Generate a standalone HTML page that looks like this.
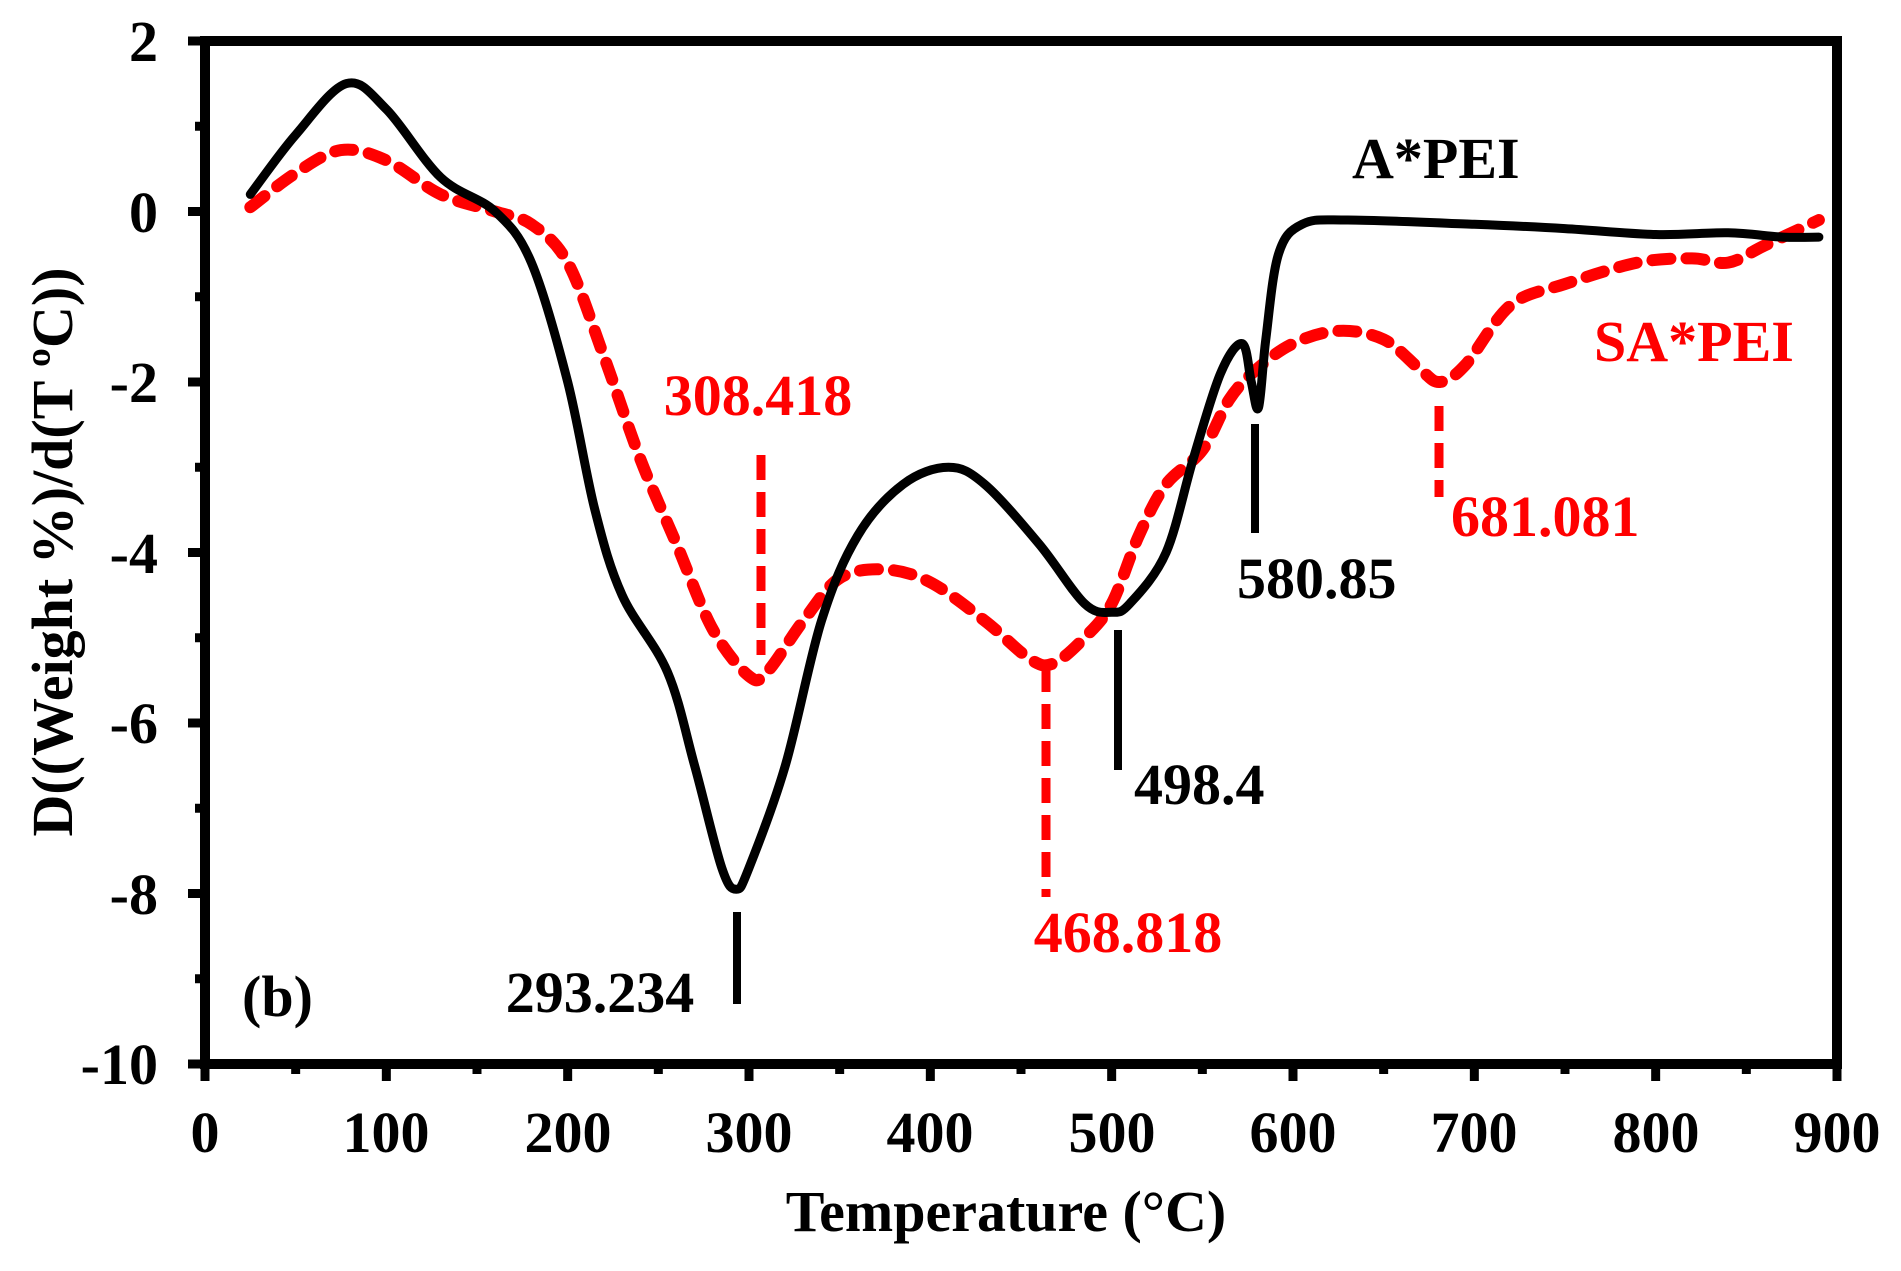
<!DOCTYPE html>
<html><head><meta charset="utf-8"><style>
html,body{margin:0;padding:0;background:#fff}
svg text{font-family:"Liberation Serif",serif;font-weight:bold}
</style></head><body>
<svg id="s" width="1901" height="1266" viewBox="0 0 1901 1266" xmlns="http://www.w3.org/2000/svg">
<rect width="1901" height="1266" fill="#fff"/>
<g id="ticks" stroke="#000" stroke-width="9"></g>
<path id="red" fill="none" stroke="#ff0000" stroke-width="12" stroke-dasharray="18 16" stroke-linecap="round"/>
<path id="blk" fill="none" stroke="#000" stroke-width="9" stroke-linejoin="round" stroke-linecap="round"/>
<rect x="205" y="41" width="1632" height="1023" fill="none" stroke="#000" stroke-width="10"/>
<g stroke="#000" stroke-width="8">
<line x1="737" y1="912" x2="737" y2="1004"/>
<line x1="1118" y1="630" x2="1118" y2="770"/>
<line x1="1255" y1="424" x2="1255" y2="533"/>
</g>
<g stroke="#ff0000" stroke-width="9" stroke-dasharray="25 12">
<line x1="761" y1="455" x2="761" y2="655"/>
<line x1="1046" y1="667" x2="1046" y2="897"/>
<line x1="1439" y1="406" x2="1439" y2="497"/>
</g>
<g font-size="58">
<text x="758" y="415" text-anchor="middle" fill="#ff0000">308.418</text>
<text x="600" y="1012" text-anchor="middle">293.234</text>
<text x="1128" y="952" text-anchor="middle" fill="#ff0000">468.818</text>
<text x="1134" y="804">498.4</text>
<text x="1237" y="598">580.85</text>
<text x="1451" y="536" fill="#ff0000">681.081</text>
<text x="1352" y="178">A*PEI</text>
<text x="1594" y="361" fill="#ff0000">SA*PEI</text>
<text x="242" y="1016">(b)</text>
</g>
<g font-size="58" text-anchor="end">
<text x="158" y="61">2</text>
<text x="158" y="232">0</text>
<text x="158" y="402">-2</text>
<text x="158" y="573">-4</text>
<text x="158" y="743">-6</text>
<text x="158" y="914">-8</text>
<text x="158" y="1084">-10</text>
</g>
<g font-size="58" text-anchor="middle">
<text x="205" y="1152">0</text>
<text x="386" y="1152">100</text>
<text x="568" y="1152">200</text>
<text x="749" y="1152">300</text>
<text x="930" y="1152">400</text>
<text x="1112" y="1152">500</text>
<text x="1293" y="1152">600</text>
<text x="1474" y="1152">700</text>
<text x="1656" y="1152">800</text>
<text x="1837" y="1152">900</text>
</g>
<text x="1006" y="1231" font-size="58" text-anchor="middle">Temperature (°C)</text>
<text transform="translate(72,552) rotate(-90)" font-size="58" text-anchor="middle">D((Weight %)/d(T ºC))</text>
</svg>
<script>
function X(t){return 205+t*1.81333}
function Y(v){return 211.5-v*85.25}
function path(pts){
 var p=pts.map(function(a){return [X(a[0]),Y(a[1])]});
 var d="M"+p[0][0].toFixed(1)+","+p[0][1].toFixed(1);
 for(var i=0;i<p.length-1;i++){
  var p0=p[i-1]||p[i],p1=p[i],p2=p[i+1],p3=p[i+2]||p2;
  var c1=[p1[0]+(p2[0]-p0[0])/6,p1[1]+(p2[1]-p0[1])/6];
  var c2=[p2[0]-(p3[0]-p1[0])/6,p2[1]-(p3[1]-p1[1])/6];
  d+="C"+c1[0].toFixed(1)+","+c1[1].toFixed(1)+" "+c2[0].toFixed(1)+","+c2[1].toFixed(1)+" "+p2[0].toFixed(1)+","+p2[1].toFixed(1);
 }
 return d;
}
var B=[[25,0.2],[50,0.9],[78,1.5],[100,1.2],[130,0.4],[160,0.0],[180,-0.6],[200,-2.0],[215,-3.5],[230,-4.5],[255,-5.4],[270,-6.5],[285,-7.7],[293,-7.95],[300,-7.7],[320,-6.5],[340,-4.8],[360,-3.8],[385,-3.2],[410,-3.0],[430,-3.2],[460,-3.9],[485,-4.6],[500,-4.7],[510,-4.6],[530,-4.0],[545,-2.9],[560,-1.9],[572,-1.55],[577,-2.0],[581,-2.3],[585,-1.5],[592,-0.5],[605,-0.15],[630,-0.1],[700,-0.15],[750,-0.2],[800,-0.27],[840,-0.25],[870,-0.3],[890,-0.3]];
var R=[[25,0.05],[50,0.45],[75,0.72],[100,0.6],[130,0.2],[160,0.0],[180,-0.15],[200,-0.6],[220,-1.7],[240,-2.9],[260,-3.9],[280,-4.9],[300,-5.45],[310,-5.4],[330,-4.8],[350,-4.3],[375,-4.2],[400,-4.35],[430,-4.8],[455,-5.25],[468,-5.3],[485,-5.0],[500,-4.6],[515,-3.8],[530,-3.2],[550,-2.8],[565,-2.2],[580,-1.85],[600,-1.55],[625,-1.4],[650,-1.5],[670,-1.85],[681,-2.0],[695,-1.8],[720,-1.1],[750,-0.85],[790,-0.6],[820,-0.55],[840,-0.6],[860,-0.4],[890,-0.1]];
document.getElementById('blk').setAttribute('d',path(B));
document.getElementById('red').setAttribute('d',path(R));
var g=document.getElementById('ticks'),h='';
for(var t=0;t<=900;t+=50){var x=X(t),L=(t%100==0)?17:10;h+='<line x1="'+x+'" y1="1064" x2="'+x+'" y2="'+(1064+L)+'"/>';}
for(var v=-10;v<=2;v+=1){var y=Y(v),L=(v%2==0)?17:10;h+='<line x1="'+(205-L)+'" y1="'+y+'" x2="205" y2="'+y+'"/>';}
g.innerHTML=h;
</script>
</body></html>
